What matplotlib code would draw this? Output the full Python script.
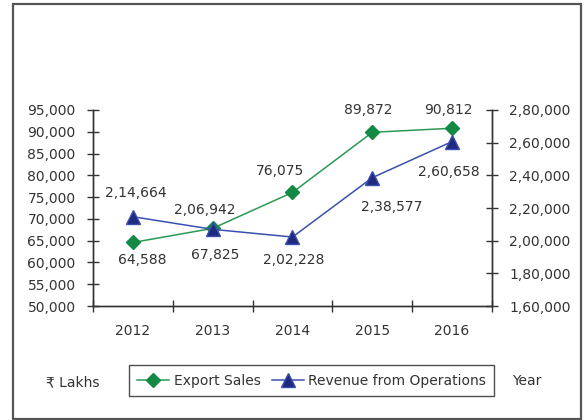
import matplotlib
matplotlib.use("Agg")
from matplotlib import pyplot as plt
from matplotlib.patches import Rectangle

### data
years = ["2012", "2013", "2014", "2015", "2016"]
export_sales = [64588, 67825, 76075, 89872, 90812]
revenue = [214664, 206942, 202228, 238577, 260658]

left_ticks = list(range(50000, 95001, 5000))
right_ticks = list(range(160000, 280001, 20000))

### label offsets from the marker, in pixels (dx right, dy down)
export_off = [(9, 18), (3, 27), (-12, -21), (-4, -22), (-4, -18)]
revenue_off = [(3, -24), (-8, -19), (1, 23), (19, 29), (-3, 30)]

plt.rcParams['font.family'] = ['DejaVu Sans']
plt.rcParams['font.size'] = 10
text_col = "#333333"


def indian(v):
    ### indian digit grouping: 2,14,664
    s = str(int(v))
    if len(s) <= 3:
        return s
    head, tail = s[:-3], s[-3:]
    parts = []
    while len(head) > 2:
        parts.insert(0, head[-2:])
        head = head[:-2]
    if head:
        parts.insert(0, head)
    return ",".join(parts) + "," + tail


fig = plt.figure(figsize=(5.87, 4.20), dpi=100)
ax = fig.add_axes([0.1584, 0.2714, 0.6797, 0.4667])
twin1 = ax.twinx()

x = list(range(len(years)))

p1, = ax.plot(x, export_sales, "-", color="#2a9a55", lw=1.1, marker="D",
              markersize=7, markerfacecolor="#138a43", markeredgecolor="#138a43",
              label="Export Sales", zorder=3)
p2, = twin1.plot(x, revenue, "-", color="#3a50b0", lw=1.1, marker="^",
                 markersize=10, markerfacecolor="#1f2a7f", markeredgecolor="#3a50b0",
                 label="Revenue from Operations", zorder=3)

### data labels
px = 0.72  # points per pixel at dpi 100
for i, v in enumerate(export_sales):
    dx, dy = export_off[i]
    ax.annotate(indian(v), (x[i], v), xytext=(dx * px, -dy * px),
                textcoords="offset points", ha="center", va="center",
                color=text_col)
for i, v in enumerate(revenue):
    dx, dy = revenue_off[i]
    twin1.annotate(indian(v), (x[i], v), xytext=(dx * px, -dy * px),
                   textcoords="offset points", ha="center", va="center",
                   color=text_col)

### axes limits and ticks
ax.set_xlim(-0.5, len(years) - 0.5)
ax.set_ylim(50000, 95000)
twin1.set_ylim(160000, 280000)

ax.set_yticks(left_ticks)
ax.set_yticklabels([indian(v) for v in left_ticks])
twin1.set_yticks(right_ticks)
twin1.set_yticklabels([indian(v) for v in right_ticks])

ax.set_xticks([i - 0.5 for i in range(len(years) + 1)])
ax.set_xticklabels([])
ax.set_xticks(x, minor=True)
ax.set_xticklabels(years, minor=True)

tkw = dict(direction="inout", length=8, width=1, colors=text_col, labelcolor=text_col)
ax.tick_params(axis="y", pad=8.5, **tkw)
twin1.tick_params(axis="y", pad=8.5, **tkw)
ax.tick_params(axis="x", which="major", **tkw)
ax.tick_params(axis="x", which="minor", length=0, pad=13, labelcolor=text_col)

for a in (ax, twin1):
    a.spines["top"].set_visible(False)
    for s in ("left", "right", "bottom"):
        a.spines[s].set_color(text_col)
        a.spines[s].set_linewidth(1)

### legend and side texts
leg = fig.legend(handles=[p1, p2], loc="center", bbox_to_anchor=(0.5307, 0.094),
                 ncol=2, frameon=True, fancybox=False, edgecolor="#222222",
                 handlelength=2.3, handletextpad=0.3, columnspacing=0.8,
                 borderpad=0.6, fontsize=10)
leg.get_frame().set_linewidth(1)
for t in leg.get_texts():
    t.set_color(text_col)

fig.text(73 / 587, 1 - 382 / 420, "₹ Lakhs", ha="center", va="center", color=text_col)
fig.text(527 / 587, 1 - 381 / 420, "Year", ha="center", va="center", color=text_col)

### outer frame
fig.patches.append(Rectangle((12.7 / 587, 1 / 420), (581 - 12.7) / 587, 415 / 420,
                             transform=fig.transFigure, fill=False,
                             edgecolor="#555555", lw=1.6))

plt.savefig("out.png", dpi=100)
